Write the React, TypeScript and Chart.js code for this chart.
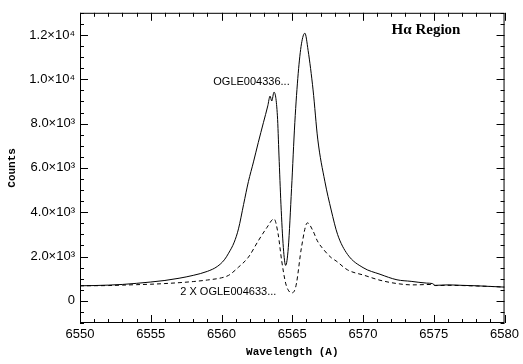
import React, { useEffect, useRef } from "react";
import { Chart, registerables } from "chart.js";

Chart.register(...registerables);

// Wavelength (Å) and counts for OGLE004336...
const wlA = [6550, 6551, 6552, 6553, 6554, 6555, 6556, 6557, 6558, 6559, 6559.7, 6560.2, 6560.5, 6560.9, 6561.2, 6561.56, 6561.9, 6562.26, 6562.6, 6562.96, 6563.27, 6563.43, 6563.55, 6563.71, 6563.95, 6564.06, 6564.2, 6564.37, 6564.53, 6564.72, 6564.95, 6565.18, 6565.42, 6565.65, 6565.89, 6566.12, 6566.47, 6566.8, 6567.3, 6567.75, 6568.2, 6568.9, 6570, 6571.2, 6572.4, 6573.4, 6574.5, 6574.9, 6575.1, 6576, 6577, 6578, 6579, 6580];
const countsA = [680, 690, 710, 740, 790, 850, 920, 1020, 1150, 1330, 1550, 1850, 2150, 2650, 3250, 4350, 5380, 6270, 7150, 8040, 8800, 9240, 9020, 9420, 8350, 6580, 4360, 2400, 1600, 2400, 5070, 8040, 10270, 11600, 12080, 11300, 9520, 7300, 5400, 4100, 3000, 2100, 1500, 1200, 950, 880, 800, 780, 700, 720, 700, 680, 650, 620];

// Wavelength (Å) and counts for 2 X OGLE004633...
const wlB = [6550, 6552, 6553, 6554, 6555, 6556, 6557, 6558, 6559, 6560, 6560.5, 6561.2, 6561.9, 6562.6, 6563.2, 6563.71, 6564.0, 6564.25, 6564.53, 6564.75, 6564.95, 6565.15, 6565.3, 6565.65, 6566.07, 6566.47, 6566.77, 6567.3, 6567.75, 6568.1, 6568.9, 6570.1, 6571.2, 6572.4, 6573.5, 6574.9, 6575.1, 6576, 6577, 6578, 6579, 6580];
const countsB = [680, 690, 710, 730, 750, 780, 820, 870, 940, 1040, 1150, 1520, 1970, 2710, 3300, 3700, 3020, 1820, 800, 450, 360, 450, 800, 2410, 3520, 3150, 2710, 2250, 1950, 1800, 1400, 1150, 930, 780, 720, 740, 690, 700, 690, 670, 650, 620];

const xTicks = [6550, 6555, 6560, 6565, 6570, 6575, 6580];
const yTicks = [0, 2000, 4000, 6000, 8000, 10000, 12000];
const labelA = "OGLE004336...";
const labelB = "2 X OGLE004633...";
const regionLabel = "H\u03b1 Region";

const SUP: Record<string, string> = { "0": "\u2070", "1": "\u00b9", "2": "\u00b2", "3": "\u00b3", "4": "\u2074", "5": "\u2075", "6": "\u2076", "7": "\u2077", "8": "\u2078", "9": "\u2079" };

function fmtY(v: number): string {
  if (v === 0) return "0";
  const e = Math.floor(Math.log10(Math.abs(v)));
  const m = v / Math.pow(10, e);
  return m.toFixed(1) + "\u00d710" + String(e).split("").map((c) => SUP[c] || c).join("");
}

const framePlugin = {
  id: "framePlugin",
  afterDraw(chart: any) {
    const ctx = chart.ctx;
    const { left, right, top, bottom } = chart.chartArea;
    const xs = chart.scales.x;
    const ys = chart.scales.y;
    ctx.save();
    ctx.strokeStyle = "#000";
    ctx.lineWidth = 1;
    ctx.strokeRect(left + 0.5, top + 0.5, right - left - 1, bottom - top - 1);
    ctx.beginPath();
    for (let v = 6550; v <= 6580; v += 1) {
      const px = Math.round(xs.getPixelForValue(v)) + 0.5;
      const len = v % 5 === 0 ? 8 : 4;
      ctx.moveTo(px, bottom);
      ctx.lineTo(px, bottom - len);
      ctx.moveTo(px, top);
      ctx.lineTo(px, top + len);
    }
    for (let v = -1000; v <= 13000; v += 500) {
      const py = Math.round(ys.getPixelForValue(v)) + 0.5;
      const len = v % 2000 === 0 ? 8 : 4;
      ctx.moveTo(left, py);
      ctx.lineTo(left + len, py);
      ctx.moveTo(right, py);
      ctx.lineTo(right - len, py);
    }
    ctx.stroke();

    ctx.fillStyle = "#000";
    ctx.textAlign = "center";
    ctx.textBaseline = "middle";
    ctx.font = "11px 'Liberation Sans'";
    ctx.fillText(labelA, xs.getPixelForValue(6562.12), ys.getPixelForValue(9870));
    ctx.fillText(labelB, xs.getPixelForValue(6560.48), ys.getPixelForValue(400));
    ctx.font = "bold 15px 'Liberation Serif'";
    ctx.fillText(regionLabel, xs.getPixelForValue(6574.45), ys.getPixelForValue(12220));
    ctx.restore();
  },
};

export default function App() {
  const ref = useRef<HTMLCanvasElement | null>(null);
  useEffect(() => {
    if (!ref.current) return;
    const chart = new Chart(ref.current, {
      type: "line",
      data: {
        datasets: [
          {
            label: labelA,
            data: wlA.map((x, i) => ({ x, y: countsA[i] })),
            borderColor: "#000",
            borderWidth: 1,
            pointRadius: 0,
            cubicInterpolationMode: "monotone",
          },
          {
            label: labelB,
            data: wlB.map((x, i) => ({ x, y: countsB[i] })),
            borderColor: "#000",
            borderWidth: 1,
            borderDash: [4, 3],
            pointRadius: 0,
            cubicInterpolationMode: "monotone",
          },
        ],
      },
      options: {
        responsive: false,
        animation: false,
        layout: { padding: { left: 0, right: 15, top: 8, bottom: 0 } },
        plugins: { legend: { display: false }, tooltip: { enabled: false } },
        scales: {
          x: {
            type: "linear",
            min: 6550,
            max: 6580,
            grid: { display: false, drawTicks: false },
            border: { display: false },
            afterBuildTicks: (s: any) => {
              s.ticks = xTicks.map((v) => ({ value: v }));
            },
            afterFit: (s: any) => {
              s.height = 41;
            },
            ticks: {
              padding: 4,
              maxRotation: 0,
              autoSkip: false,
              color: "#000",
              font: { family: "'Liberation Sans'", size: 13 },
              callback: (v: any) => String(v),
            },
            title: {
              display: true,
              text: "Wavelength (A)",
              color: "#000",
              font: { family: "'Liberation Mono'", size: 11, weight: "bold" },
              padding: { top: 0, bottom: 5 },
            },
          },
          y: {
            type: "linear",
            min: -1000,
            max: 13000,
            grid: { display: false, drawTicks: false },
            border: { display: false },
            afterBuildTicks: (s: any) => {
              s.ticks = yTicks.map((v) => ({ value: v }));
            },
            afterFit: (s: any) => {
              s.width = 80;
            },
            ticks: {
              padding: 5,
              autoSkip: false,
              color: "#000",
              font: { family: "'Liberation Sans'", size: 13 },
              callback: (v: any) => fmtY(Number(v)),
            },
            title: {
              display: true,
              text: "Counts",
              color: "#000",
              font: { family: "'Liberation Mono'", size: 11, weight: "bold" },
              padding: { top: 6, bottom: 0 },
            },
          },
        },
      },
      plugins: [framePlugin],
    });
    return () => chart.destroy();
  }, []);
  return (
    <div style={{ position: "fixed", left: 0, top: 0, width: 523, height: 364, background: "#fff" }}>
      <canvas ref={ref} width={523} height={364} />
    </div>
  );
}
